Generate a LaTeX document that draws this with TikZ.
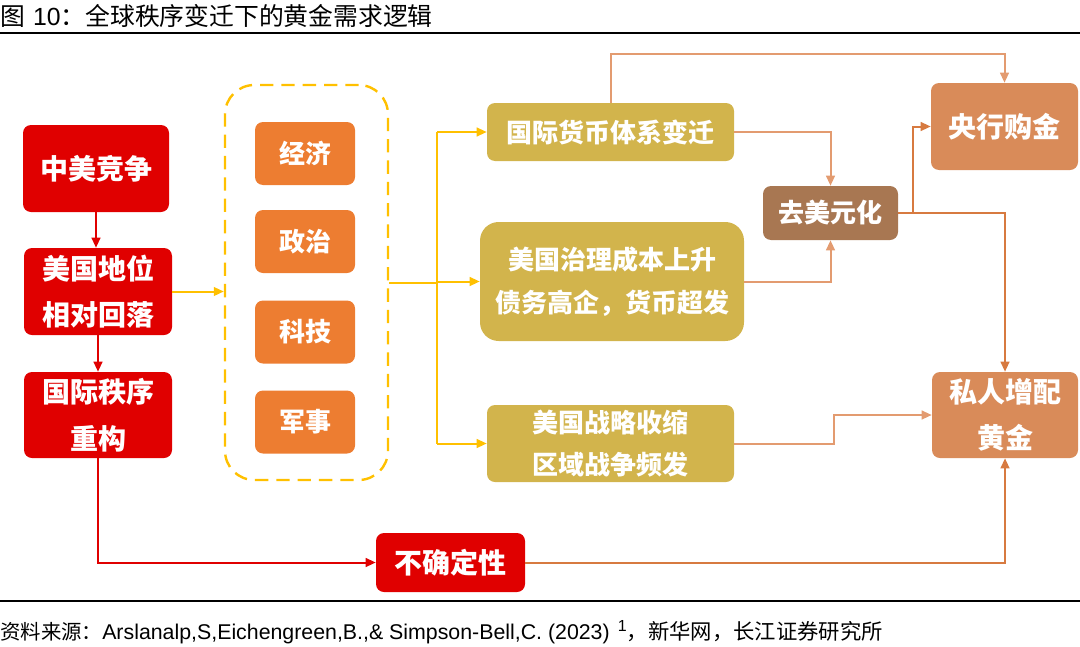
\documentclass[tikz,border=0pt]{standalone}
\usepackage{fontspec}
\setmainfont{Liberation Sans}
\newfontfamily\cjk{Noto Sans CJK SC}
\usetikzlibrary{arrows.meta}
\definecolor{hong}{HTML}{E00000}
\definecolor{cheng}{HTML}{ED7D31}
\definecolor{huang}{HTML}{FFC000}
\definecolor{jin}{HTML}{D2B44C}
\definecolor{zong}{HTML}{A87752}
\definecolor{tuo}{HTML}{D98B59}
\definecolor{qian}{HTML}{E39B70}
\definecolor{shen}{HTML}{D77A40}

\begin{document}
\begin{tikzpicture}[x=0.75pt,y=-0.75pt,
    box/.style = {fill=#1, text=white, rounded corners=6pt, inner sep=0pt, align=center},
    big/.style = {font=\cjk\bfseries\fontsize{21pt}{35pt}\selectfont},
    small/.style = {font=\cjk\bfseries\fontsize{19.5pt}{32pt}\selectfont},
    tip/.style = {-{Triangle[length=7.5pt,width=6.5pt]}},
    red/.style = {draw=hong, line width=1.5pt},
    yel/.style = {draw=huang, line width=1.5pt},
    lt/.style = {draw=qian, line width=1.5pt},
    dk/.style = {draw=shen, line width=1.5pt}]
    \useasboundingbox (0,0) rectangle (1080,646);

    % title and source
    \node[anchor=base west, inner sep=0pt, font=\fontsize{18.6pt}{20pt}\selectfont] (tt) at (0,26)
        {{\cjk 图}\hspace{6pt}10{\cjk ：全球秩序变迁下的黄金需求逻辑}};
    \draw[line width=2pt] (0,33) -- (1080,33);
    \draw[line width=2pt] (0,601) -- (1080,601);
    \node[anchor=base west, inner sep=0pt, font=\fontsize{16pt}{18pt}\selectfont] (src) at (0,639)
        {{\cjk\fontsize{15.3pt}{18pt}\selectfont 资料来源：}Arslanalp,S,Eichengreen,B.,\& Simpson-Bell,C. (2023)\hspace{6pt}\raisebox{6pt}{\fontsize{12pt}{12pt}\selectfont 1}{\cjk ，新华网，长江证券研究所}};

    % left column
    \node[box=hong, big, minimum width=109.5pt, minimum height=65.25pt] (zm) at (96,168.5) {中美竞争};
    \node[box=hong, big, minimum width=111pt, minimum height=65.25pt] (dw) at (98,291.5) {美国地位\\相对回落};
    \node[box=hong, big, minimum width=111pt, minimum height=64.5pt] (cg) at (98,415) {国际秩序\\重构};

    % dashed group
    \node[draw=huang, dashed, dash pattern=on 10pt off 6pt, line width=1.8pt, rounded corners=22pt,
        minimum width=122.25pt, minimum height=296.25pt, inner sep=0pt] (db) at (306.5,282.5) {};
    \node[box=cheng, small, minimum width=75pt, minimum height=47.25pt] (jj) at (305,153.5) {经济};
    \node[box=cheng, small, minimum width=75pt, minimum height=47.25pt] (zz) at (305,241.5) {政治};
    \node[box=cheng, small, minimum width=75pt, minimum height=47.25pt] (kj) at (305,332) {科技};
    \node[box=cheng, small, minimum width=75pt, minimum height=47.25pt] (js) at (305,422) {军事};

    % middle column
    \node[box=jin, small, minimum width=185.25pt, minimum height=43.5pt] (hb) at (610.5,132) {国际货币体系变迁};
    \node[box=jin, small, rounded corners=14pt, minimum width=198pt, minimum height=89.25pt] (zl) at (612,281.5)
        {美国治理成本上升\\债务高企，货币超发};
    \node[box=jin, small, minimum width=185.25pt, minimum height=57.75pt] (zs) at (610.5,443.5)
        {美国战略收缩\\区域战争频发};
    \node[box=hong, big, minimum width=111.75pt, minimum height=44.25pt] (bq) at (450.5,562.5) {不确定性};

    % right column
    \node[box=zong, small, minimum width=101.25pt, minimum height=40.5pt] (qm) at (830.5,213) {去美元化};
    \node[box=tuo, big, minimum width=110.25pt, minimum height=65.25pt] (yh) at (1004.5,126.5) {央行购金};
    \node[box=tuo, big, minimum width=109.5pt, minimum height=64.5pt] (sr) at (1005,415) {私人增配\\黄金};

    % red chain
    \draw[red, tip] (zm) -- (zm |- dw.north);
    \draw[red, tip] (dw) -- (dw |- cg.north);
    \draw[red, tip] (cg) |- (bq);
    \draw[dk, tip] (bq) -| (sr);

    % yellow fan
    \coordinate (tr) at (437,283);
    \draw[yel, tip] (dw) -- (dw -| db.west);
    \draw[yel] (db.east |- tr) -- (tr);
    \draw[yel] (tr |- hb) -- (tr |- zs);
    \draw[yel, tip] (tr |- hb) -- (hb);
    \draw[yel, tip] (tr |- zl) -- (zl);
    \draw[yel, tip] (tr |- zs) -- (zs);

    % to gold demand
    \draw[lt, tip] (hb.north) -- ++(0,-49) -| (yh);
    \draw[lt, tip] (hb) -| (qm);
    \draw[lt, tip] (zl) -| (qm);
    \draw[lt, tip] (zs) -- (834,443.5) |- (sr);
    \draw[dk, tip] (qm.east) -- ++(15,0) |- (yh);
    \draw[dk, tip] (qm) -| (sr);
\end{tikzpicture}
\end{document}
